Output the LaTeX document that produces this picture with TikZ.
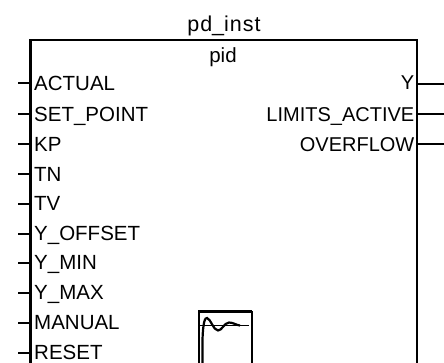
\documentclass[tikz,border=0pt]{standalone}
\usepackage{fontspec}
\setmainfont{Liberation Sans}
\tikzset{
  x=1pt,y=-1pt,
  lbl/.style={inner sep=0pt,font=\fontsize{20}{22}\selectfont,text=black},
  inlbl/.style={lbl,font=\fontsize{20.5}{22}\selectfont,anchor=base west},
  outlbl/.style={lbl,anchor=base east},
  pin/.style={line width=2pt,black},
  frame/.style={line width=2pt,black}
}
\begin{document}
\begin{tikzpicture}
\useasboundingbox (0,0) rectangle (444,362);
\clip (0,0) rectangle (444,362);
% block frame, open at the bottom (cut off by the picture edge)
\draw[frame] (30,370) -- (30,40) -- (417,40) -- (417,370);
\draw[line width=3pt] (30.5,370) -- (30.5,40);
\node[lbl,font=\fontsize{21.5}{22}\selectfont,anchor=base] (inst) at (224,31.5) {p\kern1pt d\_i\kern1pt n\kern1pt s\kern1pt t};
\node[lbl,font=\fontsize{20.5}{22}\selectfont,anchor=base] (type) at (223,62) {pid};
% inputs
\foreach \nm/\txt/\yy/\bb in {a/ACTUAL/83/90,b/SET\_POINT/114/121.5,c/KP/144/151.5,d/TN/174/181,e/TV/204/210,f/Y\_OFFSET/234/240,g/Y\_MIN/263/269,h/Y\_MAX/293/299,i/MANUAL/323/329,j/RESET/353/359}{
  \node[inlbl] (in\nm) at (34,\bb) {\txt};
  \coordinate (inb\nm) at (30,\yy);
  \coordinate (ine\nm) at (18,\yy);
  \draw[pin] (ine\nm) -- (inb\nm);
}
% outputs
\foreach \nm/\txt/\yy/\bb in {a/Y/84/89.5,b/LIMITS\_ACTIVE/114/121.5,c/OVERFLOW/144/151.5}{
  \node[outlbl] (out\nm) at (414.5,\bb) {\txt};
  \coordinate (outb\nm) at (417,\yy);
  \coordinate (oute\nm) at (444,\yy);
  \draw[pin] (outb\nm) -- (oute\nm);
}
% step-response icon
\draw[line width=2.6pt] (198,311.5) -- (252,311.5);
\draw[line width=2pt] (198.5,370) -- (198.5,311);
\draw[line width=1.3pt] (252,311) -- (252,370);
\draw[line width=1.6pt] (199,325.5) -- (249,325.5);
\draw[line width=2.2pt] (202.5,370) -- (202.5,340) .. controls (203,322) and (205,317.5) .. (207,318)
  .. controls (211,319) and (213,330) .. (218,330.5) .. controls (222,330.5) and (224,323) .. (229,322.5)
  .. controls (233,322.5) and (236,325) .. (240,325.5);
\end{tikzpicture}
\end{document}
